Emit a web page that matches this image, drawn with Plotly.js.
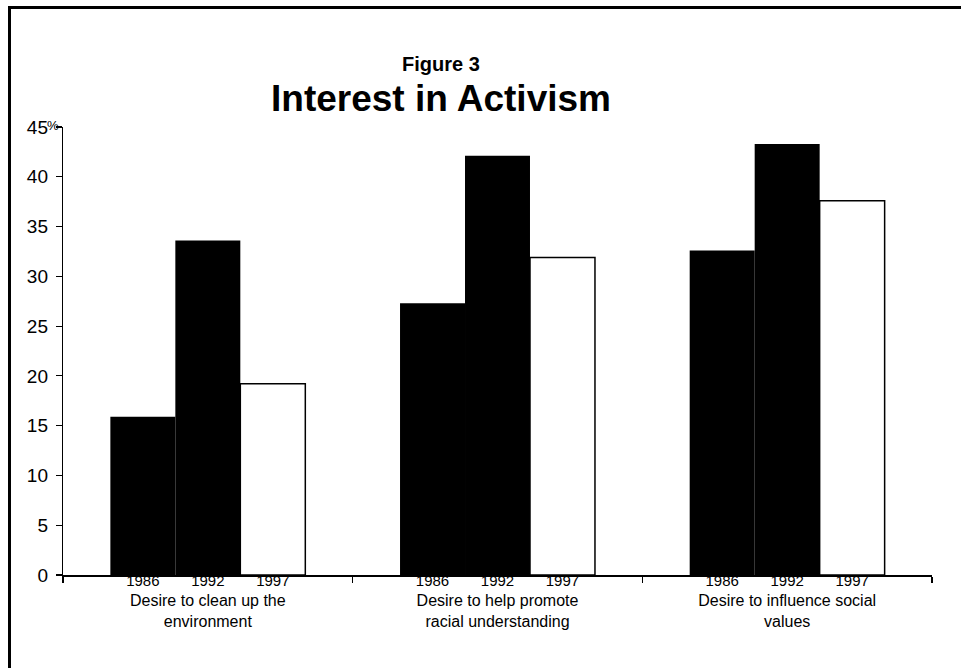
<!DOCTYPE html>
<html>
<head>
<meta charset="utf-8">
<script src="https://cdn.plot.ly/plotly-3.0.1.min.js"></script>
<style>
  html, body { margin: 0; padding: 0; background: #fff; }
  #wrap { position: relative; width: 961px; height: 668px; overflow: hidden; }
  #chart { width: 961px; height: 668px; }
  #frame { position: absolute; left: 8px; top: 6px; width: 1000px; height: 700px;
           border-left: 3px solid #000; border-top: 3px solid #000; pointer-events: none; }
</style>
</head>
<body>
<div id="wrap"><div id="chart"></div><div id="frame"></div></div>
<script>
const categories = [
  "Desire to clean up the<br>environment",
  "Desire to help promote<br>racial understanding",
  "Desire to influence social<br>values"
];
const years = ["1986", "1992", "1997"];
const v1986 = [15.9, 27.3, 32.6];
const v1992 = [33.6, 42.1, 43.3];
const v1997 = [19.2, 31.9, 37.6];
const yTickVals = [0, 5, 10, 15, 20, 25, 30, 35, 40, 45];
const yTickText = ["0", "5", "10", "15", "20", "25", "30", "35", "40", "45"];
const boundaryTicks = [0.5, 1.5, 2.5];

const series = [v1986, v1992, v1997];
const fills = ["#000000", "#000000", "#ffffff"];

const traces = [];
series.forEach((vals, i) => {
  traces.push({
    type: "bar", name: years[i], x: categories, y: vals,
    marker: { color: fills[i], line: { color: "#000", width: i === 2 ? 1.5 : 0 } },
    hoverinfo: "skip"
  });
});
series.forEach((vals, i) => {
  traces.push({
    type: "scatter", mode: "text", name: years[i] + " label",
    x: categories, y: categories.map(() => 0),
    text: categories.map(() => years[i]),
    textposition: "bottom center",
    marker: { size: 14 },
    textfont: { family: "Liberation Sans, Arial, sans-serif", size: 15, color: "#000" },
    cliponaxis: false, hoverinfo: "skip"
  });
});

const baseFont = "Liberation Sans, Arial, Helvetica, sans-serif";

const layout = {
  width: 961, height: 668,
  margin: { l: 63, r: 29, t: 127, b: 93 },
  paper_bgcolor: "#fff", plot_bgcolor: "rgba(0,0,0,0)",
  showlegend: false,
  barmode: "group", bargap: 0.327, bargroupgap: 0,
  scattermode: "group", scattergap: 0.327,
  font: { family: baseFont, color: "#000" },
  title: {
    text: "<b>Interest in Activism</b>",
    font: { family: "Liberation Sans, Arial, sans-serif", size: 37, color: "#000" },
    xref: "container", yref: "container",
    x: 441 / 961, xanchor: "center",
    y: 1 - 98 / 668, yanchor: "middle"
  },
  annotations: [{
    text: "<b>Figure 3</b>", showarrow: false,
    xref: "paper", yref: "paper",
    x: (441 - 63) / 869, y: (575 - 64) / 448,
    xanchor: "center", yanchor: "middle",
    font: { family: "Liberation Sans, Arial, sans-serif", size: 20, color: "#000" }
  }, {
    text: "%", showarrow: false,
    xref: "paper", yref: "y",
    x: 0, y: 45, xanchor: "right", yanchor: "bottom",
    xshift: -2, yshift: -8,
    font: { family: baseFont, size: 13, color: "#000" }
  }],
  xaxis: {
    type: "category",
    tickson: "boundaries",
    ticks: "outside", ticklen: 6, tickwidth: 1.5, tickcolor: "#000",
    showline: true, linecolor: "#000", linewidth: 1.5,
    showgrid: false, zeroline: false,
    ticklabelstandoff: 10,
    tickfont: { family: baseFont, size: 16, color: "#000" },
    fixedrange: true
  },
  xaxis2: {
    type: "linear", overlaying: "x", anchor: "y",
    range: [-0.5, 2.5],
    tickvals: boundaryTicks,
    ticks: "inside", ticklen: 6, tickwidth: 1.5, tickcolor: "#000",
    showline: false, showgrid: false, zeroline: false,
    showticklabels: false
  },
  yaxis: {
    range: [0, 45],
    tickvals: yTickVals, ticktext: yTickText,
    ticks: "outside", ticklen: 6, tickwidth: 1.2, tickcolor: "#000",
    showline: true, linecolor: "#000", linewidth: 1.2,
    showgrid: false, zeroline: false,
    tickfont: { family: baseFont, size: 19, color: "#000" },
    ticklabelstandoff: 4,
    fixedrange: true
  },
  yaxis2: {
    range: [0, 45], overlaying: "y", anchor: "x", side: "left",
    tickvals: yTickVals,
    ticks: "inside", ticklen: 7, tickwidth: 1.2, tickcolor: "#000",
    showline: false, showgrid: false, zeroline: false,
    showticklabels: false
  }
};

Plotly.newPlot("chart", traces, layout, { displayModeBar: false, staticPlot: true });
</script>
</body>
</html>
